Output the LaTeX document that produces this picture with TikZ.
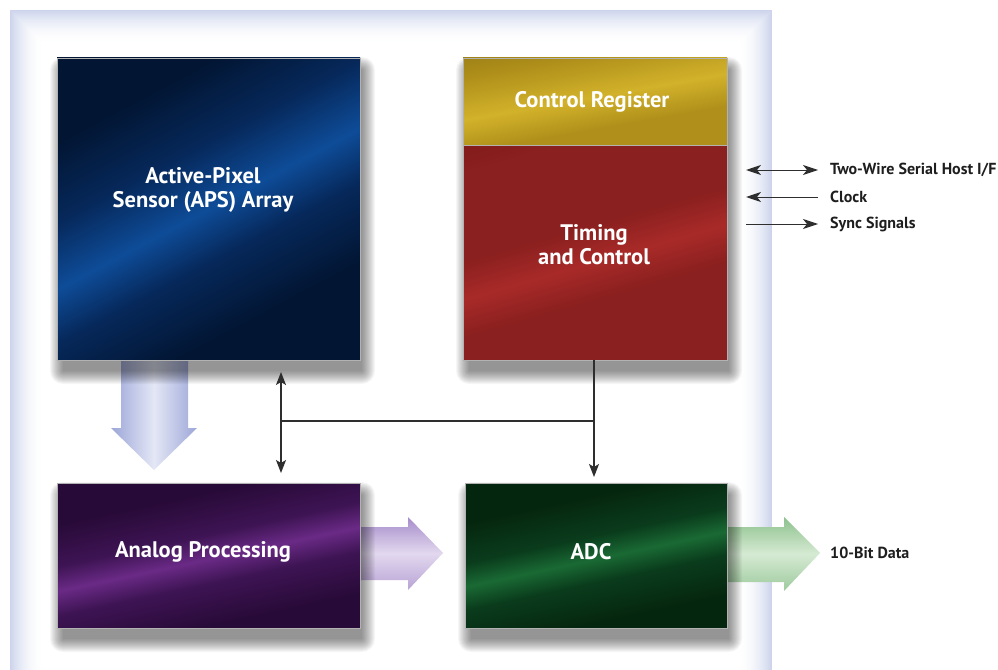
\documentclass[tikz,border=0pt]{standalone}
\usepackage{fontspec}
\setmainfont{PT Sans}
\usetikzlibrary{arrows.meta}
\definecolor{bgedge}{HTML}{CCD4EC}
\definecolor{apsD}{HTML}{021532}
\definecolor{apsM}{HTML}{06285A}
\definecolor{apsL}{HTML}{0E4C98}
\definecolor{regD}{HTML}{7A6410}
\definecolor{regM}{HTML}{B0901A}
\definecolor{regL}{HTML}{D2B22A}
\definecolor{timD}{HTML}{6A0E0C}
\definecolor{timM}{HTML}{8A201F}
\definecolor{timL}{HTML}{A82A28}
\definecolor{anaD}{HTML}{280A38}
\definecolor{anaM}{HTML}{3E1454}
\definecolor{anaL}{HTML}{6A2A86}
\definecolor{adcD}{HTML}{05260E}
\definecolor{adcM}{HTML}{0A3C1C}
\definecolor{adcL}{HTML}{1A6A34}
\definecolor{dnA}{HTML}{9CA6D8}
\definecolor{dnB}{HTML}{E4E7F5}
\definecolor{puA}{HTML}{A68CCB}
\definecolor{puB}{HTML}{E2D8EE}
\definecolor{grA}{HTML}{8CC18C}
\definecolor{grB}{HTML}{D6EAD3}
\definecolor{conn}{HTML}{2E2E2E}
\definecolor{txt}{HTML}{1E1E1E}
\pgfdeclarehorizontalshading{apsS}{100bp}{color(0bp)=(apsD); color(28bp)=(apsD); color(40bp)=(apsM); color(50bp)=(apsL); color(58bp)=(apsM); color(70bp)=(apsD); color(100bp)=(apsD)}
\pgfdeclarehorizontalshading{regS}{100bp}{color(0bp)=(regD); color(30bp)=(regM); color(48bp)=(regL); color(62bp)=(regM); color(100bp)=(regM)}
\pgfdeclarehorizontalshading{timS}{100bp}{color(0bp)=(timD); color(25bp)=(timM); color(44bp)=(timM); color(52bp)=(timL); color(60bp)=(timM); color(100bp)=(timM)}
\pgfdeclarehorizontalshading{anaS}{100bp}{color(0bp)=(anaD); color(32bp)=(anaD); color(44bp)=(anaM); color(51bp)=(anaL); color(58bp)=(anaM); color(70bp)=(anaD); color(100bp)=(anaD)}
\pgfdeclarehorizontalshading{adcS}{100bp}{color(0bp)=(adcD); color(32bp)=(adcD); color(44bp)=(adcM); color(51bp)=(adcL); color(58bp)=(adcM); color(70bp)=(adcD); color(100bp)=(adcD)}
\tikzset{
  bustip/.tip={Stealth[length=13pt,width=10pt,inset=3pt]},
  sigtip/.tip={Stealth[length=15pt,width=10pt,inset=4pt]}
}
\newcommand\bshadow[4]{%
  \foreach \r in {0,...,13}{
    \fill[black, opacity=0.036, rounded corners=\r pt] ({#1+6-\r},{#2+12-\r}) rectangle ({#3+2+\r},{#4+11+\r});
  }}
\begin{document}
\begin{tikzpicture}[x=1pt,y=-1pt,
  block/.style={rectangle, inner sep=0pt, draw=black!30, line width=0.5pt},
  lbl/.style={text=white, font=\fontsize{22.5}{24}\selectfont\bfseries, align=center, inner sep=0pt},
  sig/.style={text=txt, font=\fontsize{16}{18}\selectfont\bfseries, anchor=west, inner sep=0pt},
  wire/.style={draw=conn, line width=1.3pt}
]
\useasboundingbox (0,0) rectangle (998,669);
% background panel
\begin{scope}
\clip (0,0) rectangle (998,669);
\fill[white] (0,0) rectangle (998,669);
\foreach \i [evaluate=\i as \p using {100*(1-\i/34)*(1-\i/34)}] in {0,...,34}{
  \fill[bgedge!\p!white] ({10+\i},{10+\i}) rectangle ({772-\i},700);
}
\end{scope}
% fat arrows
\path[left color=dnA, right color=dnA, middle color=dnB]
  (121,360) -- (188,360) -- (188,428) -- (197,428) -- (154,470) -- (111,428) -- (121,428) -- cycle;
\path[top color=puA, bottom color=puA!80!white, middle color=puB]
  (360,527) -- (408,527) -- (408,517) -- (443,553) -- (408,590) -- (408,580) -- (360,580) -- cycle;
\path[top color=grA, bottom color=grA!85!white, middle color=grB]
  (727,527) -- (784,527) -- (784,517) -- (820,553) -- (784,591) -- (784,582) -- (727,582) -- cycle;
% shadows
\bshadow{57}{58}{360}{360}
\bshadow{463}{58}{727}{360}
\bshadow{57}{483}{360}{628}
\bshadow{465}{483}{727}{628}
% blocks
\node[block, shading=apsS, shading angle=-62, minimum width=303pt, minimum height=302pt] (aps) at (208.5,209) {};
\node[block, shading=regS, shading angle=-80, minimum width=264pt, minimum height=87pt] (reg) at (595,101.5) {};
\node[block, shading=timS, shading angle=-74, minimum width=264pt, minimum height=215pt] (tim) at (595,252.5) {};
\node[block, shading=anaS, shading angle=-78, minimum width=303pt, minimum height=145pt] (ana) at (208.5,555.5) {};
\node[block, shading=adcS, shading angle=-78, minimum width=262pt, minimum height=145pt] (adc) at (596,555.5) {};
% labels
\node[lbl] (apsT) at (203,190) {Active-Pixel\\Sensor (APS) Array};
\node[lbl] (regT) at (592,102) {Control Register};
\node[lbl] (timT) at (594,245) {Timing\\and Control};
\node[lbl] (anaT) at (203,552) {Analog Processing};
\node[lbl] (adcT) at (591,552) {ADC};
% bus connectors
\coordinate (t1) at (281,372);
\coordinate (j1) at (281,421);
\coordinate (b1) at (281,473);
\coordinate (j2) at (594,421);
\coordinate (b2) at (594,477);
\draw[wire, {bustip}-{bustip}] (t1) -- (b1);
\draw[wire] (j1) -- (j2);
\draw[wire, -{bustip}] (tim.south -| j2) -- (b2);
% signal labels and arrows
\node[sig] (s1) at (830,170) {Two-Wire Serial Host I/F};
\node[sig] (s2) at (830,197) {Clock};
\node[sig] (s3) at (830,224) {Sync Signals};
\node[sig] (s4) at (830,553) {10-Bit Data};
\coordinate (l1) at (746,170);
\coordinate (l2) at (746,197);
\coordinate (l3) at (746,224);
\draw[wire, line width=1pt, {sigtip}-{sigtip}] (l1) -- ([xshift=-12pt]s1.west);
\draw[wire, line width=1pt, {sigtip}-] (l2) -- ([xshift=-12pt]s2.west);
\draw[wire, line width=1pt, -{sigtip}] (l3) -- ([xshift=-12pt]s3.west);
\end{tikzpicture}
\end{document}
